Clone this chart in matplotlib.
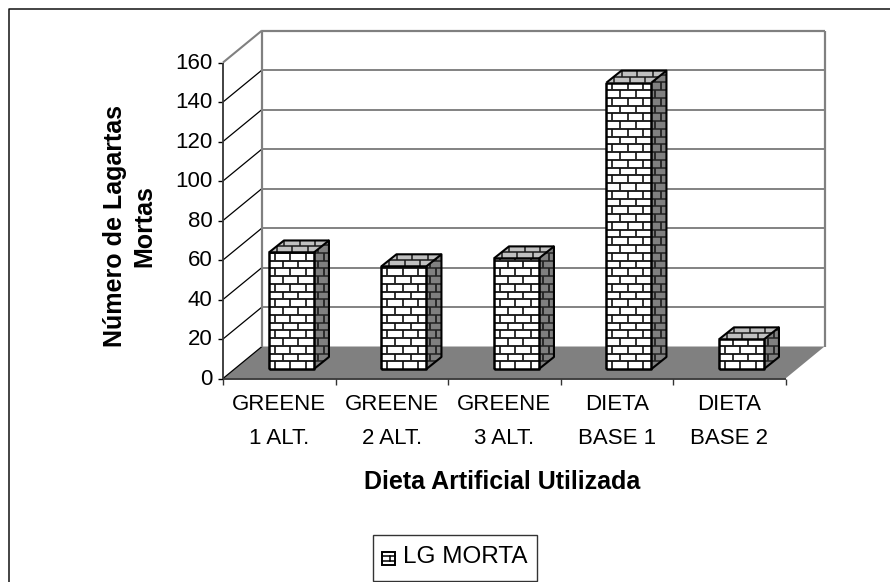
import matplotlib
matplotlib.use("Agg")
import matplotlib.pyplot as plt
from matplotlib.patches import Polygon, Rectangle
from matplotlib.lines import Line2D
import numpy as np

plt.rcParams['font.family'] = ['Liberation Sans', 'DejaVu Sans']

categories = ["GREENE\n1 ALT.", "GREENE\n2 ALT.", "GREENE\n3 ALT.", "DIETA\nBASE 1", "DIETA\nBASE 2"]
values = [59, 52, 56, 145, 15]
yticks = [0, 20, 40, 60, 80, 100, 120, 140, 160]
series_name = "LG MORTA"
ylabel_text = "Número de Lagartas\nMortas"
xlabel_text = "Dieta Artificial Utilizada"

W, H = 890, 582
fig = plt.figure(figsize=(W/100, H/100), dpi=100, facecolor="white")
L, R, T, B = 223, 785.5, 62.5, 378.5
ax = fig.add_axes([L/W, 1-B/H, (R-L)/W, (B-T)/H])
ax.set_xlim(0, 5)
ax.set_ylim(0, 160)
ax.axis("off")

px = 5/(R-L)          # data x per pixel
py = 160/(B-T)        # data y per pixel
DX, DY = 39*px, 32*py  # wall depth


def line(xs, ys, c="k", lw=1.1, z=3, clip=None):
    ln = Line2D(xs, ys, color=c, lw=lw, zorder=z, clip_on=False,
                solid_capstyle="butt")
    ax.add_line(ln)
    if clip is not None:
        ln.set_clip_on(True)
        ln.set_clip_path(clip)
    return ln


# floor and walls
ax.add_patch(Polygon([(0, 0), (5, 0), (5+DX, DY), (DX, DY)], fc="#808080", ec="none", zorder=1, clip_on=False))
for v in yticks:
    if v > 0:
        line([DX, 5+DX], [v+DY, v+DY], c="#606060" if v < 160 else "#808080", lw=1.1 if v < 160 else 1.6, z=2)
    line([0, DX], [v, v+DY], c="#808080" if v == 160 else "k", lw=1.5 if v == 160 else 0.9, z=2)
    line([-5*px, 0], [v, v], c="k", lw=1.0, z=2)
    ax.text(-10.5*px, v-0.3, str(v), ha="right", va="center", fontsize=16, color="k")
line([DX, DX], [DY, 160+DY], c="#808080", lw=1.6, z=2)
line([5+DX, 5+DX], [DY, 160+DY], c="#808080", lw=1.6, z=2)
line([0, 0], [0, 160], c="#333333", lw=1.3, z=2)
line([0, 5], [0, 0], c="#333333", lw=1.3, z=2)
for i in range(6):
    line([i, i], [0, -6.5*py], c="#333333", lw=1.0, z=2)

# bars
bar_w = 45*px
off_x = 12.2*px
off_y = 9.5*py
dep_x, dep_y = 15*px, 12*py
row = 7.75*py
brick = 15.5*px


def draw_bar(i, v, z):
    x0 = i + 0.5 - bar_w/2 + off_x
    x1 = x0 + bar_w
    y0 = off_y
    y1 = y0 + v
    # front
    ax.add_patch(Rectangle((x0, y0), bar_w, v, fc="white", ec="none", zorder=z, clip_on=False))
    rows = np.arange(y0, y1, row)
    for k, r in enumerate(rows):
        if k > 0:
            line([x0, x1], [r, r], c="#111111", lw=1.3, z=z+.1)
        top = min(r+row, y1)
        start = x0 + (6*px if k % 2 == 0 else 14*px)
        for xv in np.arange(start, x1-1*px, brick):
            line([xv, xv], [r, top], c="#222222", lw=1.3, z=z+.1)
    # side: flat brick pattern clipped to the parallelogram
    side = Polygon([(x1, y0), (x1+dep_x, y0+dep_y), (x1+dep_x, y1+dep_y), (x1, y1)],
                   fc="#808080", ec="none", zorder=z, clip_on=False)
    ax.add_patch(side)
    for k, r in enumerate(np.arange(y0, y1+dep_y, row)):
        line([x1, x1+dep_x], [r, r], c="#222222", lw=1.1, z=z+.1, clip=side)
        xv = x1 + (10*px if k % 2 == 0 else 4*px)
        line([xv, xv], [r, r+row], c="#222222", lw=1.3, z=z+.1, clip=side)
    # top
    roof = Polygon([(x0, y1), (x1, y1), (x1+dep_x, y1+dep_y), (x0+dep_x, y1+dep_y)],
                   fc="#c0c0c0", ec="none", zorder=z, clip_on=False)
    ax.add_patch(roof)
    line([x0, x1+dep_x], [y1+.5*dep_y]*2, c="#1a1a1a", lw=1.1, z=z+.1, clip=roof)
    for st, a, b in ((0, 0, .5), (.5, .5, 1)):
        for xv in np.arange(x0+brick*st+brick*.5, x1+dep_x, brick):
            line([xv, xv], [y1+a*dep_y, y1+b*dep_y], c="#1a1a1a", lw=1.1, z=z+.1, clip=roof)
    # outlines
    line([x0, x1, x1, x0, x0], [y0, y0, y1, y1, y0], lw=1.8, z=z+.2)
    line([x1, x1+dep_x, x1+dep_x, x1], [y0, y0+dep_y, y1+dep_y, y1], lw=1.5, z=z+.2)
    line([x0, x0+dep_x, x1+dep_x], [y1, y1+dep_y, y1+dep_y], lw=1.5, z=z+.2)


for i, v in enumerate(values):
    draw_bar(i, v, 4+i)
    a, b = categories[i].split("\n")
    ax.text(i+.5, -(405-B)*py, a, ha="center", va="center", fontsize=16, color="k")
    ax.text(i+.5, -(438-B)*py, b, ha="center", va="center", fontsize=16, color="k")

# titles
fig.text(129.5/W, 1-226/H, ylabel_text, rotation=90, ha="center", va="center", fontsize=18,
         fontweight="bold", linespacing=1.3, multialignment="center")
fig.text(502.5/W, 1-482/H, xlabel_text, ha="center", va="center", fontsize=18, fontweight="bold")

# chart frame: left and top edges only, open to the right and bottom
fig.add_artist(Line2D([9/W, 9/W, 1], [0, 1-9/H, 1-9/H], color="#111111", lw=1.1))

# legend
fig.add_artist(Rectangle((373/W, 1-581/H), 164/W, 46/H, fc="white", ec="#333333", lw=1.0, transform=fig.transFigure))
mx, my, mw, mh = 382/W, 1-565/H, 13/W, 13/H
fig.add_artist(Rectangle((mx, my), mw, mh, fc="white", ec="k", lw=1.4, transform=fig.transFigure))
fig.add_artist(Line2D([mx, mx+mw], [my+mh*.66]*2, color="k", lw=1.1))
fig.add_artist(Line2D([mx, mx+mw], [my+mh*.28]*2, color="k", lw=1.1))
fig.add_artist(Line2D([mx+mw*.6]*2, [my+mh*.28, my+mh*.66], color="k", lw=1.1))
fig.text(403/W, 1-557/H, series_name, ha="left", va="center", fontsize=17.5, color="k")

fig.savefig("out.png", dpi=100)
